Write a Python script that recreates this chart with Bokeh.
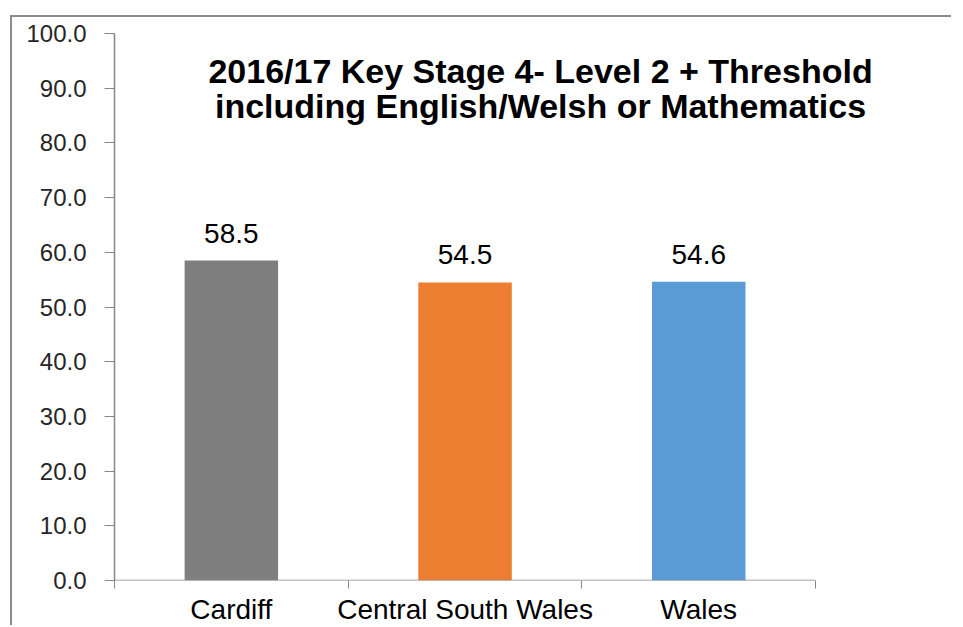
from bokeh.plotting import figure
from bokeh.models import (ColumnDataSource, FixedTicker, NumeralTickFormatter,
                          Range1d, Label, LabelSet)
from bokeh.core.properties import value
from bokeh.embed import file_html
from bokeh.resources import INLINE

# ---- data ----
categories = ["Cardiff", "Central South Wales", "Wales"]
values = [58.5, 54.5, 54.6]
colors = ["#7F7F7F", "#ED7D31", "#5B9BD5"]
y_ticks = [0, 10, 20, 30, 40, 50, 60, 70, 80, 90, 100]
title_lines = ["2016/17 Key Stage 4- Level 2 + Threshold",
               "including English/Welsh or Mathematics"]

n = len(categories)
positions = [i + 0.5 for i in range(n)]
source = ColumnDataSource(dict(
    x=positions, top=values, color=colors,
    label=[f"{v:.1f}" for v in values],
))

W, H = 941, 610
LEFT, TOP, FH = 102, 16, 548
CAT_PX = 233.7                      # pixel width of one category slot
FW = W - LEFT                       # frame runs to the right edge
x_max = FW / CAT_PX

p = figure(width=W, height=H, output_backend="svg", toolbar_location=None,
           x_range=Range1d(0, x_max), y_range=Range1d(0, 100),
           min_border_left=LEFT, min_border_right=0,
           min_border_top=TOP, min_border_bottom=H - TOP - FH,
           styles={"margin-left": "10px", "margin-top": "15px",
                   "border-left": "2px solid #8C8C8C",
                   "border-top": "2px solid #8C8C8C"})

p.vbar(x="x", top="top", width=0.4, color="color", source=source, line_color=None)

labels = LabelSet(x="x", y="top", text="label", source=source,
                  text_align="center", text_baseline="bottom", y_offset=18,
                  text_font=value("Liberation Sans"), text_font_size="28px",
                  text_color="#000000")
p.add_layout(labels)

# title lines drawn inside the plot area
for i, line in enumerate(title_lines):
    p.add_layout(Label(x=1.823, y=[93.1, 86.7][i], text=line,
                       text_align="center", text_baseline="middle",
                       text_font="Liberation Sans", text_font_style="bold",
                       text_font_size="34px", text_color="#000000"))

# x axis line only across the categories
p.segment(x0=[0], y0=[0], x1=[n], y1=[0], line_color="#868686", line_width=1.5)

p.xgrid.visible = False
p.ygrid.visible = False
p.outline_line_color = None
p.background_fill_color = "white"
p.border_fill_color = "white"

xa = p.xaxis[0]
xa.ticker = FixedTicker(ticks=positions, minor_ticks=list(range(n + 1)))
xa.major_label_overrides = {pos: c for pos, c in zip(positions, categories)}
xa.major_tick_line_color = None
xa.minor_tick_line_color = "#868686"
xa.minor_tick_out = 8
xa.minor_tick_in = 0
xa.axis_line_color = None
xa.major_label_text_font = "Liberation Sans"
xa.major_label_text_font_size = "28px"
xa.major_label_text_color = "#000000"
xa.major_label_standoff = 5

ya = p.yaxis[0]
ya.ticker = FixedTicker(ticks=y_ticks)
ya.formatter = NumeralTickFormatter(format="0.0")
ya.minor_tick_line_color = None
ya.major_tick_line_color = "#868686"
ya.major_tick_out = 10
ya.major_tick_in = 0
ya.axis_line_color = "#868686"
ya.axis_line_width = 1.5
ya.major_label_text_font = "Liberation Sans"
ya.major_label_text_font_size = "24px"
ya.major_label_text_color = "#262626"
ya.major_label_standoff = 18

open("out.html", "w").write(file_html(p, INLINE))
